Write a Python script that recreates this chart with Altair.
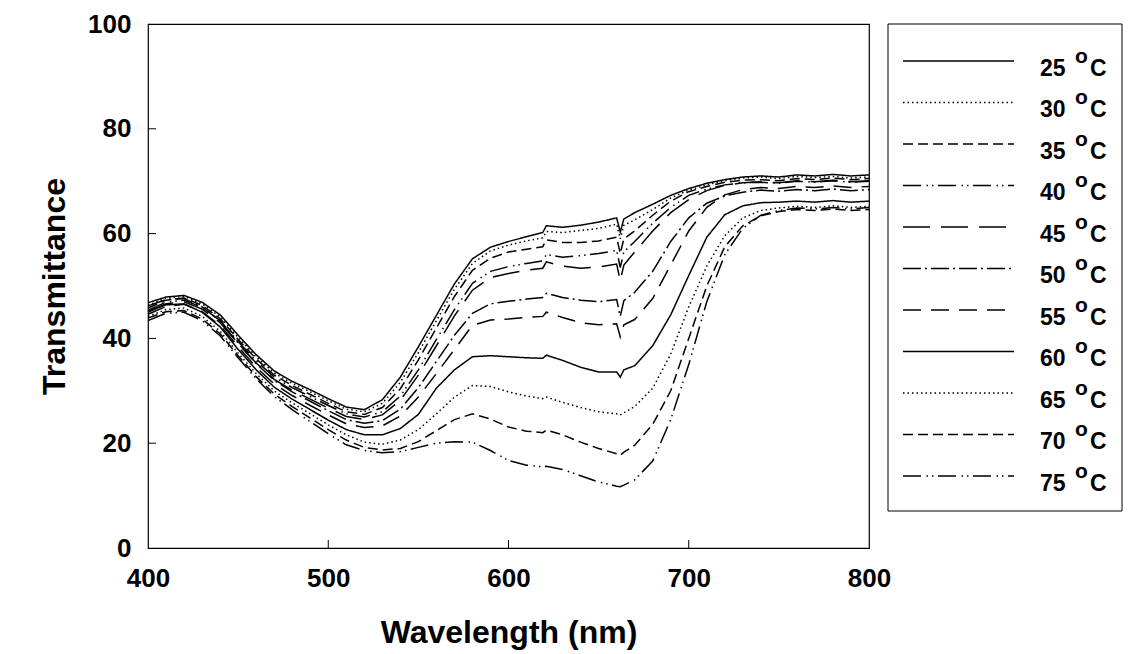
import altair as alt
import pandas as pd

# ---------------- data ----------------
wavelength = [400, 410, 420, 430, 440, 450, 460, 470, 480, 490, 500, 510,
              520, 530, 540, 550, 560, 570, 580, 590, 600, 610,
              619, 621, 630, 640, 650, 660, 662, 664,
              670, 680, 690, 700, 710, 720, 730, 740, 750, 760, 770, 780, 790, 800]

t25 = [46.8, 47.9, 48.2, 46.9, 44.5, 40.6, 36.9, 33.8, 31.8, 30.2, 28.5, 26.9,
       26.4, 28.3, 32.6, 38.4, 44.4, 50.4, 55.2, 57.4, 58.5, 59.4,
       60.2, 61.5, 61.2, 61.6, 62.2, 63.0, 60.3, 62.8,
       64.0, 65.6, 67.3, 68.6, 69.6, 70.3, 70.8, 71.0, 70.8, 71.2, 71.0, 71.3, 71.0, 71.2]
t30 = [46.3, 47.7, 48.0, 46.6, 44.1, 40.2, 36.5, 33.4, 31.4, 29.8, 28.1, 26.5,
       26.0, 27.6, 31.6, 37.3, 43.4, 49.4, 54.3, 56.7, 57.8, 58.6,
       59.2, 60.4, 60.2, 60.6, 61.0, 61.8, 59.0, 61.6,
       62.6, 64.6, 66.8, 68.3, 69.3, 70.1, 70.6, 70.8, 70.5, 70.9, 70.7, 70.9, 70.6, 70.8]
t35 = [45.8, 47.3, 47.7, 46.3, 43.8, 39.8, 36.1, 33.0, 31.0, 29.3, 27.6, 26.0,
       25.5, 26.8, 30.4, 35.9, 42.0, 48.0, 53.0, 55.3, 56.5, 57.0,
       57.5, 58.8, 58.3, 58.3, 58.6, 59.3, 56.2, 59.0,
       60.5, 63.5, 66.2, 68.0, 69.0, 69.8, 70.2, 70.3, 70.1, 70.5, 70.3, 70.6, 70.3, 70.5]
t40 = [45.4, 46.9, 47.3, 45.9, 43.4, 39.4, 35.7, 32.6, 30.6, 28.9, 27.2, 25.6,
       25.0, 26.0, 29.0, 34.0, 39.8, 45.5, 50.5, 52.8, 53.7, 54.3,
       54.8, 56.0, 55.5, 55.8, 56.2, 56.8, 53.5, 56.5,
       58.5, 62.0, 65.0, 67.3, 68.5, 69.3, 69.7, 69.8, 69.6, 70.0, 69.8, 70.1, 69.8, 70.0]
t45 = [45.0, 46.6, 47.0, 45.6, 43.0, 39.0, 35.3, 32.2, 30.1, 28.4, 26.7, 25.1,
       24.5, 25.4, 28.2, 33.0, 38.6, 44.3, 49.2, 51.6, 52.4, 53.0,
       53.4, 54.6, 53.8, 53.4, 53.6, 54.2, 51.0, 54.0,
       56.5, 60.5, 64.0, 66.5, 68.2, 69.2, 69.7, 69.9, 69.7, 70.1, 69.9, 70.2, 69.9, 70.1]
t50 = [46.2, 47.4, 47.6, 46.0, 43.3, 39.1, 35.2, 32.0, 29.8, 28.0, 26.2, 24.5,
       23.8, 24.3, 26.5, 30.6, 35.6, 40.6, 44.8, 46.6, 47.1, 47.5,
       47.8, 48.6, 47.8, 47.3, 47.0, 47.4, 44.2, 47.2,
       48.8, 52.8, 58.5, 63.0, 65.8, 67.2, 67.9, 68.3, 68.1, 68.4, 68.2, 68.5, 68.2, 68.4]
t55 = [44.6, 46.1, 46.5, 45.1, 42.5, 38.4, 34.5, 31.3, 29.1, 27.2, 25.4, 23.7,
       23.0, 23.3, 25.2, 28.8, 33.3, 37.9, 42.5, 43.5, 43.7, 44.0,
       44.2, 45.0, 44.0, 43.0, 42.6, 42.8, 40.3, 42.6,
       43.6, 47.6, 54.0, 60.5, 65.0, 67.4, 68.4, 68.8, 68.6, 69.0, 68.8, 69.1, 68.8, 69.0]
t60 = [45.2, 46.4, 46.6, 45.0, 42.2, 37.9, 34.0, 30.7, 28.4, 26.4, 24.4, 22.6,
       21.6, 21.6, 22.8, 25.5, 30.5, 34.0, 36.5, 36.7, 36.5, 36.3,
       36.2, 36.8, 35.8, 34.5, 33.6, 33.6, 32.6, 34.0,
       34.8, 38.6, 44.5, 52.0, 59.3, 63.6, 65.3, 65.9, 66.0, 66.2, 66.0, 66.3, 66.0, 66.2]
t65 = [44.2, 45.5, 45.8, 44.2, 41.4, 37.2, 33.3, 30.0, 27.7, 25.6, 23.5, 21.6,
       20.2, 19.8, 20.6, 22.6, 25.6, 28.8, 31.0, 30.8, 29.8, 29.0,
       28.5, 28.8, 27.8, 26.8, 26.0, 25.6, 25.4, 25.8,
       27.0, 30.5, 37.0, 46.0, 53.8, 59.6, 63.0, 64.4, 64.9, 65.2, 65.0, 65.3, 65.0, 65.2]
t70 = [43.9, 45.1, 45.3, 43.7, 40.9, 36.7, 32.7, 29.4, 27.0, 24.8, 22.6, 20.6,
       19.2, 18.7, 19.0, 20.3, 22.4, 24.5, 25.6, 24.6, 23.1, 22.3,
       22.0, 22.5, 21.6, 20.2, 19.0, 18.0, 17.7, 18.3,
       19.6, 23.6, 30.0, 40.0, 50.0, 57.5, 61.5, 63.4, 64.2, 64.6, 64.4, 64.7, 64.4, 64.6]
t75 = [43.4, 44.8, 45.0, 43.4, 40.5, 36.3, 32.3, 28.9, 26.4, 24.1, 21.8, 19.7,
       18.6, 18.2, 18.4, 19.2, 20.0, 20.3, 20.2, 18.6, 16.7, 15.8,
       15.5, 15.6, 15.0, 13.8, 12.6, 11.8, 11.7, 12.0,
       13.0, 16.6, 24.5, 35.0, 47.0, 56.0, 61.0, 63.5, 64.4, 64.9, 64.7, 65.0, 64.7, 65.0]

temps = ["25", "30", "35", "40", "45", "50", "55", "60", "65", "70", "75"]
series_values = [t25, t30, t35, t40, t45, t50, t55, t60, t65, t70, t75]
dash_patterns = [[1, 0], [1.5, 3], [10, 5], [18, 5.5, 1.5, 4, 1.5, 4.5], [27, 11],
                 [18, 4, 2, 4], [18, 10], [1, 0], [1.5, 3], [10, 5],
                 [18, 5.5, 1.5, 4, 1.5, 4.5]]
x_ticks = [400, 500, 600, 700, 800]
y_ticks = [0, 20, 40, 60, 80, 100]

# ---------------- tables ----------------
rows = []
for t, vals in zip(temps, series_values):
    for w, v in zip(wavelength, vals):
        rows.append({"wavelength": w, "T": v, "series": t})
df = pd.DataFrame(rows)

legend_df = pd.DataFrame({"series": temps, "num": temps,
                          "sup": ["o"] * len(temps), "unit": ["C"] * len(temps)})

FONT = "Liberation Sans"
W, H = 721, 524

dash_scale = alt.Scale(domain=temps, range=dash_patterns)
x_scale = alt.Scale(domain=[400, 800], nice=False)
y_scale = alt.Scale(domain=[0, 100], nice=False)

x_axis = alt.Axis(values=x_ticks, ticks=False, tickSize=0, domain=False, grid=False,
                  labelFlush=False, labelOverlap=False,
                  labelFont=FONT, labelFontSize=26, labelFontWeight="bold",
                  labelColor="black", labelPadding=17,
                  titleFont=FONT, titleFontSize=32, titleFontWeight="bold",
                  titleColor="black", titlePadding=26)
y_axis = alt.Axis(values=y_ticks, ticks=False, tickSize=0, domain=False, grid=False,
                  labelFlush=False, labelOverlap=False,
                  labelFont=FONT, labelFontSize=26, labelFontWeight="bold",
                  labelColor="black", labelPadding=17,
                  titleFont=FONT, titleFontSize=32, titleFontWeight="bold",
                  titleColor="black", titlePadding=16)

X_TITLE = "Wavelength (nm)"
Y_TITLE = "Transmittance"

lines = alt.Chart(df).mark_line(color="black", strokeWidth=1.5).encode(
    x=alt.X("wavelength:Q", scale=x_scale, title=X_TITLE, axis=x_axis),
    y=alt.Y("T:Q", scale=y_scale, title=Y_TITLE, axis=y_axis),
    strokeDash=alt.StrokeDash("series:N", scale=dash_scale, legend=None),
)

# inward tick marks drawn from the same scales
ytick = alt.Chart(pd.DataFrame({"T": y_ticks[1:-1]})).mark_rule(color="black", strokeWidth=1).encode(
    y=alt.Y("T:Q", scale=y_scale, title=Y_TITLE, axis=y_axis),
    x=alt.value(0), x2=alt.value(8))
xtick = alt.Chart(pd.DataFrame({"wavelength": x_ticks[1:-1]})).mark_rule(color="black", strokeWidth=1).encode(
    x=alt.X("wavelength:Q", scale=x_scale, title=X_TITLE, axis=x_axis),
    y=alt.value(H), y2=alt.value(H - 8))

plot = alt.layer(lines, ytick, xtick)

# ---------------- legend (drawn as marks) ----------------
ly = alt.Y("series:N", scale=alt.Scale(type="point", domain=temps, range=[37, 452], padding=0),
           axis=None)

box = alt.Chart(pd.DataFrame({"a": [0]})).mark_rect(
    fill="white", stroke="black", strokeWidth=1).encode(
    x=alt.value(740), x2=alt.value(974), y=alt.value(0), y2=alt.value(487))

leg_lines = alt.Chart(legend_df).mark_rule(color="black", strokeWidth=1.3).encode(
    y=ly, x=alt.value(755), x2=alt.value(866),
    strokeDash=alt.StrokeDash("series:N", scale=dash_scale, legend=None))

leg_num = alt.Chart(legend_df).mark_text(
    font=FONT, fontSize=23, fontWeight="bold", color="black", align="left",
    baseline="alphabetic", dy=14.5).encode(y=ly, x=alt.value(892), text="num:N")
leg_sup = alt.Chart(legend_df).mark_text(
    font=FONT, fontSize=21, fontWeight="bold", color="black", align="left",
    baseline="alphabetic", dy=1.5).encode(y=ly, x=alt.value(927), text="sup:N")
leg_unit = alt.Chart(legend_df).mark_text(
    font=FONT, fontSize=23, fontWeight="bold", color="black", align="left",
    baseline="alphabetic", dy=14.5).encode(y=ly, x=alt.value(942), text="unit:N")

legend = alt.layer(box, leg_lines, leg_num, leg_sup, leg_unit)

chart = alt.layer(plot, legend).resolve_scale(y="independent").properties(
    width=W, height=H,
    autosize=alt.AutoSizeParams(type="none"),
    padding={"left": 140, "top": 16, "right": 262, "bottom": 105},
    background="white",
).configure_view(stroke="black", strokeWidth=1.2)

chart.save("out.html", embed_options={"renderer": "svg", "actions": False})
